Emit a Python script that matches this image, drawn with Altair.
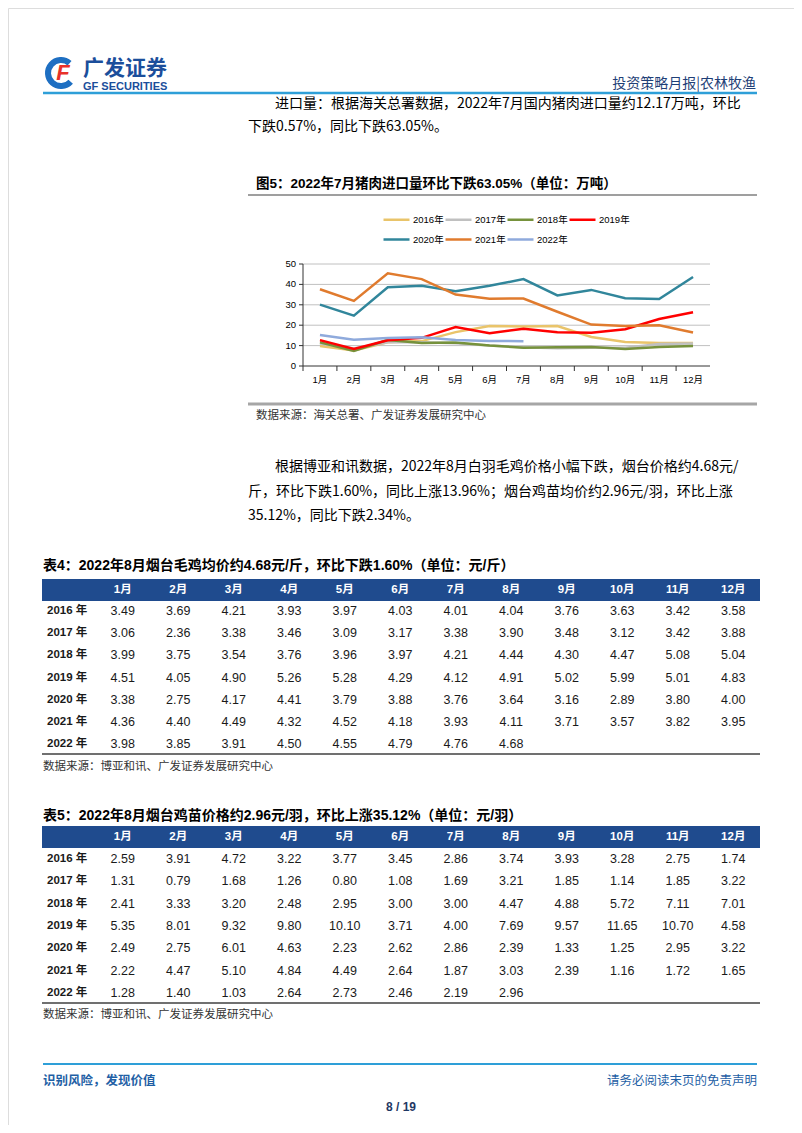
import altair as alt
import pandas as pd

W, H = 786, 1117


def X(v):
    return v - 8


def Y(v):
    return v - 8


CJK = "Noto Sans CJK SC"
BODY = "Liberation Sans Narrow, Noto Sans CJK SC"
NUM = "Liberation Sans Narrow, Liberation Sans, sans-serif"
AX = "Liberation Sans, Noto Sans CJK SC"

# ---------------- data ----------------
MONTHS = ["1月", "2月", "3月", "4月", "5月", "6月", "7月", "8月", "9月", "10月", "11月", "12月"]
YEARS = ["2016年", "2017年", "2018年", "2019年", "2020年", "2021年", "2022年"]
COLORS = ["#E9C46A", "#C0C0C0", "#76923C", "#FF0000", "#31869B", "#E07B2E", "#8FAADC"]

imp_2016 = [9.8, 7.6, 11.6, 12.2, 16.6, 19.6, 19.4, 19.6, 14.2, 11.8, 11.3, 11.3]
imp_2017 = [11.0, 8.6, 11.6, 11.6, 11.2, 10.0, 9.2, 8.7, 9.0, 9.0, 10.8, 11.0]
imp_2018 = [11.6, 7.4, 12.8, 11.3, 11.5, 10.0, 9.0, 9.2, 9.3, 8.3, 9.3, 9.8]
imp_2019 = [12.7, 8.3, 12.6, 13.8, 19.1, 16.1, 18.3, 16.5, 16.3, 18.0, 23.0, 26.3]
imp_2020 = [30.1, 24.7, 38.6, 39.3, 36.6, 39.3, 42.6, 34.6, 37.3, 33.2, 32.8, 43.6]
imp_2021 = [37.6, 31.9, 45.4, 42.6, 35.0, 33.0, 33.1, 26.6, 20.3, 19.6, 20.0, 16.4]
imp_2022 = [15.2, 12.9, 13.7, 14.1, 12.7, 12.24, 12.17]
IMPORT_SERIES = [imp_2016, imp_2017, imp_2018, imp_2019, imp_2020, imp_2021, imp_2022]
Y_TICKS = [0, 10, 20, 30, 40, 50]

TABLE_ROWS = ["2016 年", "2017 年", "2018 年", "2019 年", "2020 年", "2021 年", "2022 年"]

broiler_2016 = [3.49, 3.69, 4.21, 3.93, 3.97, 4.03, 4.01, 4.04, 3.76, 3.63, 3.42, 3.58]
broiler_2017 = [3.06, 2.36, 3.38, 3.46, 3.09, 3.17, 3.38, 3.90, 3.48, 3.12, 3.42, 3.88]
broiler_2018 = [3.99, 3.75, 3.54, 3.76, 3.96, 3.97, 4.21, 4.44, 4.30, 4.47, 5.08, 5.04]
broiler_2019 = [4.51, 4.05, 4.90, 5.26, 5.28, 4.29, 4.12, 4.91, 5.02, 5.99, 5.01, 4.83]
broiler_2020 = [3.38, 2.75, 4.17, 4.41, 3.79, 3.88, 3.76, 3.64, 3.16, 2.89, 3.80, 4.00]
broiler_2021 = [4.36, 4.40, 4.49, 4.32, 4.52, 4.18, 3.93, 4.11, 3.71, 3.57, 3.82, 3.95]
broiler_2022 = [3.98, 3.85, 3.91, 4.50, 4.55, 4.79, 4.76, 4.68]
BROILER = [broiler_2016, broiler_2017, broiler_2018, broiler_2019, broiler_2020, broiler_2021, broiler_2022]

chick_2016 = [2.59, 3.91, 4.72, 3.22, 3.77, 3.45, 2.86, 3.74, 3.93, 3.28, 2.75, 1.74]
chick_2017 = [1.31, 0.79, 1.68, 1.26, 0.80, 1.08, 1.69, 3.21, 1.85, 1.14, 1.85, 3.22]
chick_2018 = [2.41, 3.33, 3.20, 2.48, 2.95, 3.00, 3.00, 4.47, 4.88, 5.72, 7.11, 7.01]
chick_2019 = [5.35, 8.01, 9.32, 9.80, 10.10, 3.71, 4.00, 7.69, 9.57, 11.65, 10.70, 4.58]
chick_2020 = [2.49, 2.75, 6.01, 4.63, 2.23, 2.62, 2.86, 2.39, 1.33, 1.25, 2.95, 3.22]
chick_2021 = [2.22, 4.47, 5.10, 4.84, 4.49, 2.64, 1.87, 3.03, 2.39, 1.16, 1.72, 1.65]
chick_2022 = [1.28, 1.40, 1.03, 2.64, 2.73, 2.46, 2.19, 2.96]
CHICK = [chick_2016, chick_2017, chick_2018, chick_2019, chick_2020, chick_2021, chick_2022]

# ---------------- helpers ----------------
ONE = pd.DataFrame({"a": [0]})


def txt(s, x, y, size=14, weight="normal", color="#000000", align="left", font=CJK, style=None):
    kw = dict(align=align, baseline="middle", fontSize=size, fontWeight=weight, color=color, font=font)
    if style:
        kw["fontStyle"] = style
    return alt.Chart(pd.DataFrame({"t": [s]})).mark_text(**kw).encode(
        x=alt.value(X(x)), y=alt.value(Y(y)), text="t:N")


def hline(x1, x2, y, color, w):
    return alt.Chart(ONE).mark_rule(color=color, strokeWidth=w).encode(
        x=alt.value(X(x1)), x2=alt.value(X(x2)), y=alt.value(Y(y)))


def vline(x, y1, y2, color, w):
    return alt.Chart(ONE).mark_rule(color=color, strokeWidth=w).encode(
        x=alt.value(X(x)), y=alt.value(Y(y1)), y2=alt.value(Y(y2)))


layers = []

# ---------------- header ----------------
layers.append(alt.Chart(ONE).mark_arc(color="#1E6FC2", theta=2.3, theta2=7.0, radius=16, radius2=10).encode(
    x=alt.value(X(61)), y=alt.value(Y(73))))
layers.append(txt("F", 63, 73, size=22, weight="bold", color="#E8312A", align="center", font="Liberation Sans", style="italic"))
layers.append(txt("广发证券", 83, 69, size=21, weight="bold", color="#1B4E9B"))
layers.append(txt("GF SECURITIES", 83, 87, size=11, weight="bold", color="#1B4E9B", font="Liberation Sans"))
layers.append(txt("投资策略月报|农林牧渔", 756, 84, size=14, color="#1F3F77", align="right"))
layers.append(hline(43, 757, 93, "#2E9FD8", 2.5))

layers.append(txt("进口量：根据海关总署数据，2022年7月国内猪肉进口量约12.17万吨，环比", 275, 104, size=14, font=BODY))
layers.append(txt("下跌0.57%，同比下跌63.05%。", 248, 127, size=14, font=BODY))
layers.append(txt("图5：2022年7月猪肉进口量环比下跌63.05%（单位：万吨）", 256, 184, size=13.5, weight="bold", font=AX))
layers.append(hline(248, 757, 195, "#7F7F7F", 1.5))

# ---------------- line chart ----------------
imp_rows = []
for yr, vals in zip(YEARS, IMPORT_SERIES):
    for m, v in zip(MONTHS, vals):
        imp_rows.append({"year": yr, "month": m, "value": v})
imp_df = pd.DataFrame(imp_rows)

xsc = alt.Scale(type="band", domain=MONTHS, range=[X(303), X(710)], paddingInner=0, paddingOuter=0)
ysc = alt.Scale(domain=[0, 50], range=[Y(366), Y(264)], nice=False, zero=False)

tick_df = pd.DataFrame({"tick": Y_TICKS, "label": [str(t) for t in Y_TICKS]})
grid_df = tick_df[tick_df["tick"] > 0]
month_df = pd.DataFrame({"month": MONTHS})

grid = alt.Chart(grid_df).mark_rule(color="#C0C0C0", strokeWidth=1).encode(
    y=alt.Y("tick:Q", scale=ysc, axis=None), x=alt.value(X(303)), x2=alt.value(X(710)))
ylabels = alt.Chart(tick_df).mark_text(align="right", baseline="middle", fontSize=9.5, font=AX, color="#000").encode(
    y=alt.Y("tick:Q", scale=ysc, axis=None), x=alt.value(X(296)), text="label:N")
yticks = alt.Chart(tick_df).mark_rule(color="#333333", strokeWidth=1).encode(
    y=alt.Y("tick:Q", scale=ysc, axis=None), x=alt.value(X(299)), x2=alt.value(X(303)))
xticks = alt.Chart(month_df).mark_rule(color="#333333", strokeWidth=1).encode(
    x=alt.X("month:N", scale=xsc, sort=MONTHS, bandPosition=0, axis=None),
    y=alt.value(Y(366)), y2=alt.value(Y(371)))
xlabels = alt.Chart(month_df).mark_text(align="center", baseline="middle", fontSize=9.5, font=AX, color="#000").encode(
    x=alt.X("month:N", scale=xsc, sort=MONTHS, bandPosition=0.5, axis=None),
    y=alt.value(Y(380)), text="month:N")
lines = alt.Chart(imp_df).mark_line(strokeWidth=2.5).encode(
    x=alt.X("month:N", scale=xsc, sort=MONTHS, bandPosition=0.5, axis=None),
    y=alt.Y("value:Q", scale=ysc, axis=None),
    color=alt.Color("year:N", scale=alt.Scale(domain=YEARS, range=COLORS), legend=alt.Legend(
        title=None, orient="none", direction="horizontal", legendX=X(382), legendY=Y(205), columns=4,
        symbolType="stroke", symbolSize=676, symbolStrokeWidth=2.5,
        labelFontSize=9.5, labelFont=AX, labelColor="#000", labelOffset=2,
        columnPadding=-19, rowPadding=-6)),
    order=alt.Order("year:N"))

line_chart = alt.layer(
    grid, ylabels, yticks, xticks, xlabels,
    vline(303, 264, 366, "#333333", 1), hline(303, 710, 366, "#333333", 1),
    lines)
layers.append(line_chart)

layers.append(hline(248, 757, 404, "#A6A6A6", 3))
layers.append(txt("数据来源：海关总署、广发证券发展研究中心", 256, 416, size=11.5, color="#333333"))

layers.append(txt("根据博亚和讯数据，2022年8月白羽毛鸡价格小幅下跌，烟台价格约4.68元/", 275, 467, size=14, font=BODY))
layers.append(txt("斤，环比下跌1.60%，同比上涨13.96%；烟台鸡苗均价约2.96元/羽，环比上涨", 248, 492, size=14, font=BODY))
layers.append(txt("35.12%，同比下跌2.34%。", 248, 516, size=14, font=BODY))


# ---------------- tables ----------------
def table(series, title, title_y, band_top, band_bot, row_top, row_bot, src_y):
    rows = []
    for r, vals in zip(TABLE_ROWS, series):
        for m, v in zip(MONTHS, vals):
            rows.append({"row": r, "col": m, "val": v})
    df = pd.DataFrame(rows)
    colsc = alt.Scale(type="band", domain=MONTHS, range=[X(95), X(761)], paddingInner=0, paddingOuter=0)
    rowsc = alt.Scale(type="band", domain=TABLE_ROWS, range=[Y(row_top), Y(row_bot)], paddingInner=0, paddingOuter=0)
    band = alt.Chart(ONE).mark_rect(color="#1F4B8E").encode(
        x=alt.value(X(42)), x2=alt.value(X(760)), y=alt.value(Y(band_top)), y2=alt.value(Y(band_bot)))
    head = alt.Chart(pd.DataFrame({"col": MONTHS})).mark_text(
        color="white", fontWeight="bold", fontSize=11.5, font=AX, baseline="middle").encode(
        x=alt.X("col:N", scale=colsc, sort=MONTHS, bandPosition=0.5, axis=None),
        y=alt.value(Y((band_top + band_bot) / 2)), text="col:N")
    rlab = alt.Chart(pd.DataFrame({"row": TABLE_ROWS})).mark_text(
        align="left", fontWeight="bold", fontSize=11.5, font=AX, baseline="middle", color="#1a1a1a").encode(
        y=alt.Y("row:N", scale=rowsc, sort=TABLE_ROWS, bandPosition=0.5, axis=None),
        x=alt.value(X(47)), text="row:N")
    cells = alt.Chart(df).mark_text(fontSize=12.5, font=NUM, baseline="middle", color="#1a1a1a").encode(
        x=alt.X("col:N", scale=colsc, sort=MONTHS, bandPosition=0.5, axis=None),
        y=alt.Y("row:N", scale=rowsc, sort=TABLE_ROWS, bandPosition=0.5, axis=None),
        text=alt.Text("val:Q", format=".2f"))
    return [
        txt(title, 43, title_y, size=14, weight="bold", font=AX),
        alt.layer(band, head, rlab, cells),
        hline(42, 760, row_bot - 1, "#404040", 1.5),
        txt("数据来源：博亚和讯、广发证券发展研究中心", 43, src_y, size=11.5, color="#333333"),
    ]


layers += table(BROILER, "表4：2022年8月烟台毛鸡均价约4.68元/斤，环比下跌1.60%（单位：元/斤）",
                566, 579, 601, 600, 755, 767)
layers += table(CHICK, "表5：2022年8月烟台鸡苗价格约2.96元/羽，环比上涨35.12%（单位：元/羽）",
                816, 826, 848, 848, 1004, 1015)

# ---------------- footer ----------------
layers.append(hline(43, 757, 1064, "#2E9FD8", 2))
layers.append(txt("识别风险，发现价值", 43, 1081, size=12.5, color="#1F5FA5", weight="bold"))
layers.append(txt("请务必阅读末页的免责声明", 757, 1081, size=12.5, color="#1F5FA5", align="right"))
layers.append(txt("8 / 19", 401, 1107, size=12, color="#1F3864", weight="bold", align="center", font=NUM))

chart = alt.layer(*layers).resolve_scale(
    x="independent", y="independent", color="independent"
).properties(
    width=W, height=H, autosize=alt.AutoSizeParams(type="none"), padding=0
).configure_view(strokeWidth=0).configure(background="white")

chart.save("out.html", embed_options={"renderer": "svg", "actions": False})
